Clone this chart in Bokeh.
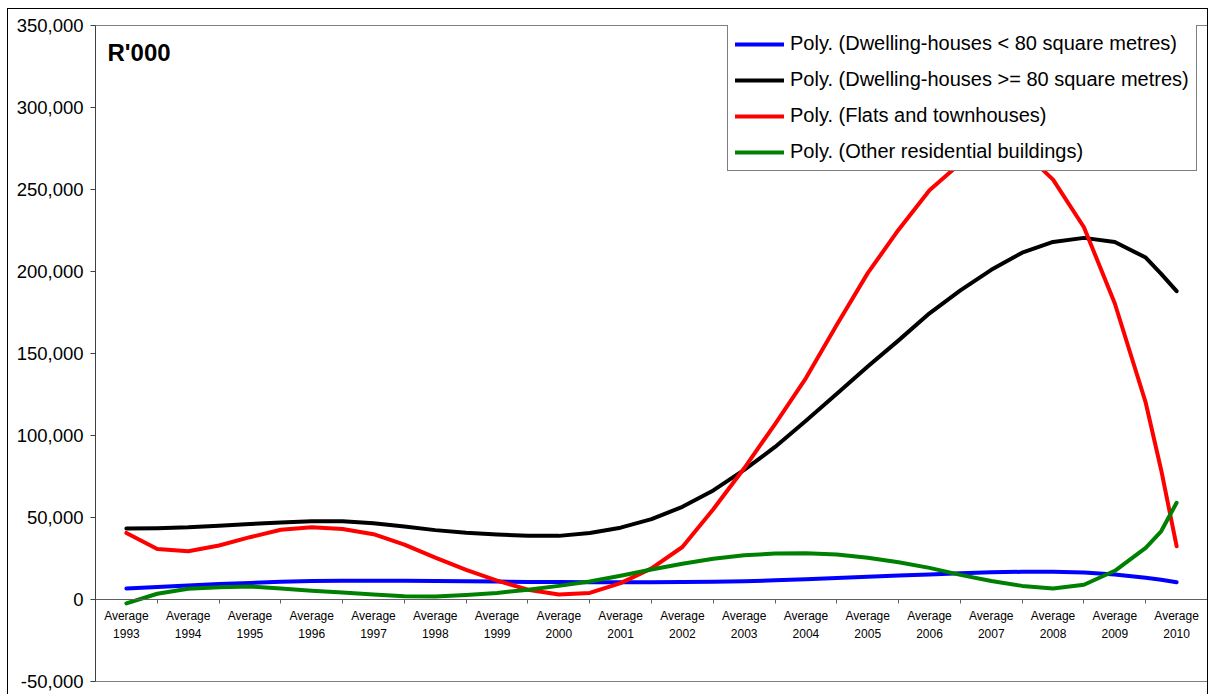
from bokeh.plotting import figure
from bokeh.models import (Range1d, FixedTicker, NumeralTickFormatter, Label,
                          Legend, LegendItem, LinearAxis)
from bokeh.core.properties import value
from bokeh.embed import file_html
from bokeh.resources import INLINE

# Category years shown on the x axis
years = [1993, 1994, 1995, 1996, 1997, 1998, 1999, 2000, 2001, 2002,
         2003, 2004, 2005, 2006, 2007, 2008, 2009, 2010]

# Positions along the year axis where the trend values are given
period = [1993.0, 1993.5, 1994.0, 1994.5, 1995.0, 1995.5, 1996.0, 1996.5,
          1997.0, 1997.5, 1998.0, 1998.5, 1999.0, 1999.5, 2000.0, 2000.5,
          2001.0, 2001.5, 2002.0, 2002.5, 2003.0, 2003.5, 2004.0, 2004.5,
          2005.0, 2005.5, 2006.0, 2006.5, 2007.0, 2007.5, 2008.0, 2008.5,
          2009.0, 2009.5, 2009.75, 2010.0]

# Polynomial trend values, R'000
houses_small = [6700, 7600, 8600, 9400, 10100, 10800, 11300, 11500,
                11500, 11400, 11300, 11100, 10900, 10700, 10600, 10500,
                10500, 10500, 10600, 10800, 11100, 11700, 12400, 13100,
                13900, 14600, 15300, 16000, 16600, 16900, 16900, 16400,
                15200, 13200, 12000, 10500]
houses_large = [43300, 43500, 44000, 45000, 46000, 47000, 47700, 47700,
                46500, 44500, 42300, 40700, 39600, 38800, 38800, 40500,
                43800, 49000, 56500, 66500, 79000, 93000, 109000, 125500,
                142000, 158000, 174500, 188500, 201000, 211500, 218000, 220500,
                218000, 208500, 198500, 188000]
flats = [40600, 30800, 29400, 32900, 38000, 42500, 44000, 43000,
         39800, 33500, 25500, 18000, 11500, 6000, 3000, 4000,
         10000, 19000, 32000, 55000, 80000, 107000, 135000, 167500,
         199000, 225500, 249500, 266000, 276000, 274000, 256000, 227000,
         180500, 120000, 79000, 32500]
other = [-2400, 3500, 6500, 7500, 7900, 6700, 5300, 4300,
         3000, 2000, 1900, 2800, 4000, 6000, 8300, 11000,
         14500, 18300, 21800, 24800, 27000, 28000, 28200, 27500,
         25500, 22700, 19300, 15000, 11300, 8300, 6700, 9000,
         17500, 31500, 41600, 59000]

series = [
    ("Poly. (Dwelling-houses < 80 square metres)", houses_small, "#0000FF"),
    ("Poly. (Dwelling-houses >= 80 square metres)", houses_large, "#000000"),
    ("Poly. (Flats and townhouses)", flats, "#FF0000"),
    ("Poly. (Other residential buildings)", other, "#008000"),
]

y_ticks = [-50000, 0, 50000, 100000, 150000, 200000, 250000, 300000, 350000]

FONT = "Liberation Sans"

p = figure(width=1201, height=686,
           x_range=Range1d(years[0] - 0.5, years[-1] + 0.5),
           y_range=Range1d(y_ticks[0], y_ticks[-1]),
           output_backend="svg", toolbar_location=None,
           x_axis_location=None,
           min_border_left=87, min_border_right=2,
           min_border_top=16, min_border_bottom=14)

p.styles = {"margin-left": "7px", "margin-top": "8px",
            "border-left": "1px solid black",
            "border-top": "1px solid black",
            "border-right": "1px solid black"}

p.background_fill_color = "white"
p.border_fill_color = "white"
p.outline_line_color = "#808080"
p.outline_line_width = 1
p.xgrid.visible = False
p.ygrid.visible = False

# value axis
p.yaxis.ticker = FixedTicker(ticks=y_ticks)
p.yaxis.formatter = NumeralTickFormatter(format="0,0")
p.yaxis.major_label_text_font = FONT
p.yaxis.major_label_text_font_size = "18.5px"
p.yaxis.major_label_text_color = "black"
p.yaxis.major_label_standoff = 7
p.yaxis.major_tick_out = 5
p.yaxis.major_tick_in = 0
p.yaxis.minor_tick_out = 0
p.yaxis.minor_tick_in = 0
p.yaxis.axis_line_color = "#404040"
p.yaxis.major_tick_line_color = "#404040"

# category axis crossing at zero, ticks between categories
boundaries = [y - 0.5 for y in years] + [years[-1] + 0.5]
xax = LinearAxis(fixed_location=0,
                 ticker=FixedTicker(ticks=boundaries))
xax.major_label_text_font_size = "1px"
xax.major_label_text_alpha = 0
xax.major_label_standoff = 0
xax.major_tick_out = 4
xax.major_tick_in = 0
xax.minor_tick_out = 0
xax.minor_tick_in = 0
xax.axis_line_color = "#606060"
xax.major_tick_line_color = "#606060"
p.add_layout(xax, "below")

p.text(x=years, y=[0] * len(years),
       text=[f"Average\n{y}" for y in years],
       y_offset=9, text_align="center", text_baseline="top",
       text_font=value(FONT), text_font_size="12px",
       text_line_height=1.33, text_color="black")

items = []
for name, vals, color in series:
    r = p.line(period, vals, line_width=4, line_color=color,
               line_cap="round", line_join="round")
    items.append(LegendItem(label=name, renderers=[r]))

p.add_layout(Label(x=years[0] - 0.5, y=y_ticks[-1], x_offset=12, y_offset=-13,
                   text="R'000", text_font=FONT, text_font_style="bold",
                   text_font_size="24px", text_baseline="top",
                   text_color="black"))

legend = Legend(items=items, location=(632, 510), margin=0, padding=7,
                spacing=13, label_height=20, glyph_height=20, glyph_width=49,
                label_standoff=6, label_text_font=FONT,
                label_text_font_size="20px", label_text_color="black",
                border_line_color="black", border_line_width=1,
                background_fill_color="white", background_fill_alpha=1.0)
p.add_layout(legend)

open("out.html", "w").write(file_html(p, INLINE))
